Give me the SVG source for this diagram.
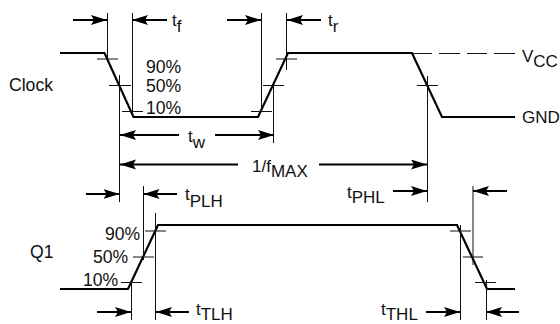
<svg xmlns="http://www.w3.org/2000/svg" width="560" height="324" viewBox="0 0 560 324">
<style>
text{font-family:"Liberation Sans",Arial,sans-serif;font-size:17px;fill:#111}
.b{font-size:17.600px}
.w{fill:none;stroke:#000;stroke-width:2.2;stroke-linejoin:miter}
.t{fill:none;stroke:#111;stroke-width:1}
.a{fill:none;stroke:#000;stroke-width:2;marker-end:url(#h)}
</style>
<defs><marker id="h" markerUnits="userSpaceOnUse" markerWidth="17" markerHeight="11" refX="16" refY="5" orient="auto"><path d="M0 0L16 5L0 10L3 5Z" fill="#000"/></marker></defs>
<rect width="560" height="324" fill="#fff"/>
<g id="waveforms">
<path class="w" d="M60 53H104.500L133.500 117H258L288 53H412L442 117H515"/>
<path class="w" d="M60 289H128L158 225H457L487 289H515"/>
<path class="t" d="M412 53.500H432M439 53.500H460M467 53.500H487M494 53.500H515"/>
</g>
<g id="connectors">
<path class="t" d="M107.500 13V58M132.500 13V116M261.500 13V111M286.500 13V70M119.500 75V202M273.500 85V143M427.500 76V202M143.500 186V260M155.500 213V320M131.500 283V320M473 186V265M460.500 225V320M486.500 280V320"/>
<path class="t" d="M97 59H118M109 85.500H131M122 111.500H143M251 111.500H272M263 85.500H284M276 59H297M417 85.500H438M145 231H166M133 257H154M121 282.500H142M450 231H471M463 257H483M475 282.500H496"/>
<path class="a" d="M73 20H107"/><path class="a" d="M167 20H132"/><path class="a" d="M227 20H261"/><path class="a" d="M321 20H287"/>
<path class="a" d="M179 135H120"/><path class="a" d="M215 135H274"/><path class="a" d="M238 164.500H120"/><path class="a" d="M319 164.500H427"/>
<path class="a" d="M86 194H119.500"/><path class="a" d="M177 194H143.500"/><path class="a" d="M97 312H131"/><path class="a" d="M189 312H156"/>
<path class="a" d="M393 191H427"/><path class="a" d="M507 191H473"/><path class="a" d="M426 312H460"/><path class="a" d="M519 312H486"/>
</g>
<g id="labels">
<text class="b" x="9" y="90.500">Clock</text><text class="b" x="30" y="258">Q1</text>
<text class="b" x="146" y="73">90%</text><text class="b" x="146" y="92">50%</text><text class="b" x="146" y="114">10%</text>
<text class="b" x="105" y="240">90%</text><text class="b" x="93" y="263">50%</text><text class="b" x="83" y="286">10%</text>
<text x="172" y="26">t<tspan dy="6">f</tspan></text>
<text x="328" y="26">t<tspan dy="6">r</tspan></text>
<text x="188" y="142">t<tspan dy="6">w</tspan></text>
<text x="252" y="172">1/f<tspan dy="5">MAX</tspan></text>
<text x="522" y="62">V<tspan dy="5">CC</tspan></text>
<text x="522" y="123">GND</text>
<text x="185" y="200">t<tspan dy="7">PLH</tspan></text>
<text x="347" y="198">t<tspan dy="5">PHL</tspan></text>
<text x="196" y="315">t<tspan dy="5">TLH</tspan></text>
<text x="381" y="315">t<tspan dy="5">THL</tspan></text>
</g>
</svg>
